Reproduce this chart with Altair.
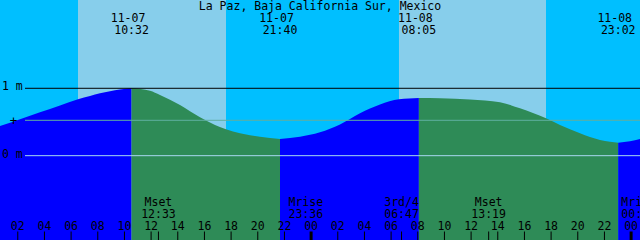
import altair as alt
import pandas as pd

TITLE = "La Paz, Baja California Sur, Mexico"
FONT = "DejaVu Sans Mono"
FS = 11.5

# Time in hours from 11-07 00:00 local; tide height in metres
tide_hours = [0.667, 2.167, 3.667, 5.167, 6.517, 7.417, 8.167, 8.917, 9.667, 10.533,
              11.917, 12.667, 14.167, 15.667, 16.792, 17.617, 18.667, 20.167, 21.667,
              23.167, 24.667, 26.167, 27.667, 29.167, 30.592, 32.083,
              33.667, 35.917, 38.167, 39.667, 41.617, 42.667, 44.167, 45.667, 46.417, 47.033,
              47.917, 48.667]
tide_m = [0.441, 0.542, 0.644, 0.745, 0.837, 0.886, 0.926, 0.955, 0.981, 1.0,
          0.964, 0.901, 0.752, 0.570, 0.455, 0.392, 0.332, 0.282, 0.248,
          0.282, 0.347, 0.463, 0.629, 0.760, 0.837, 0.856,
          0.852, 0.834, 0.792, 0.703, 0.555, 0.455, 0.332, 0.233, 0.206, 0.193,
          0.214, 0.248]

# High / low tide events
extreme_hours = [10.533, 21.667, 32.083, 47.033]
extreme_dates = ["11-07", "11-07", "11-08", "11-08"]
extreme_times = ["10:32", "21:40", "08:05", "23:02"]

# Daylight
sunrise_hours = [6.517, 30.59]
sunset_hours = [17.617, 41.617]

# Moon events
moon_hours = [12.55, 23.6, 30.783, 37.317, 48.567]
moon_names = ["Mset", "Mrise", "3rd/4", "Mset", "Mrise"]
moon_times = ["12:33", "23:36", "06:47", "13:19", "00:34"]
moon_ticked = [True, False, True, True, False]

# Hour axis
tick_hours = [2, 4, 6, 8, 10, 12, 14, 16, 18, 20, 22, 24,
              26, 28, 30, 32, 34, 36, 38, 40, 42, 44, 46, 48]
tick_labels = ["02", "04", "06", "08", "10", "12", "14", "16", "18", "20", "22", "00",
               "02", "04", "06", "08", "10", "12", "14", "16", "18", "20", "22", "00"]

# Level lines
level_m = [1.0, 0.525, 0.0]
level_labels = ["1 m", "+", "0 m"]

X_MIN, X_MAX = 0.667, 48.667
Y_MIN, Y_MAX = -1.251, 2.310

xs = alt.Scale(domain=[X_MIN, X_MAX], nice=False, zero=False)
ys = alt.Scale(domain=[Y_MIN, Y_MAX], nice=False, zero=False)

# ---- build tide segments split at extremes
ext_set = set(extreme_hours)
rows = []
seg = 0
bounds = [0] + [i for i, h in enumerate(tide_hours) if h in ext_set] + [len(tide_hours) - 1]
for s, e in zip(bounds[:-1], bounds[1:]):
    d = "flood" if tide_m[e] > tide_m[s] else "ebb"
    for i in range(s, e + 1):
        rows.append({"h": tide_hours[i], "m": tide_m[i], "seg": seg, "dir": d})
    seg += 1
tide_df = pd.DataFrame(rows)

day_df = pd.DataFrame({"a": sunrise_hours, "b": sunset_hours})
ext_df = pd.DataFrame({"h": extreme_hours, "d": extreme_dates, "t": extreme_times})
moon_df = pd.DataFrame({"h": moon_hours, "n": moon_names, "t": moon_times, "k": moon_ticked})
tick_df = pd.DataFrame({"h": tick_hours, "l": tick_labels})
tick_df["mid"] = tick_df["l"] == "00"
lvl_df = pd.DataFrame({"m": level_m, "l": level_labels})

X = lambda f: alt.X(f, scale=xs, axis=None)
Y = lambda f: alt.Y(f, scale=ys, axis=None)

night = alt.Chart(pd.DataFrame({"a": [X_MIN], "b": [X_MAX]})).mark_rect(color="#00BFFF").encode(
    x=X("a:Q"), x2="b:Q", y=alt.value(0), y2=alt.value(240))
day = alt.Chart(day_df).mark_rect(color="#87CEEB").encode(
    x=X("a:Q"), x2="b:Q", y=alt.value(0), y2=alt.value(240))

tide = alt.Chart(tide_df).mark_area(interpolate="monotone").encode(
    x=X("h:Q"), y=Y("m:Q"), y2=alt.datum(Y_MIN),
    color=alt.Color("dir:N", scale=alt.Scale(domain=["flood", "ebb"], range=["#0000FF", "#2E8B57"]), legend=None),
    detail="seg:N")

def level_rule(idx, color):
    return alt.Chart(lvl_df.iloc[[idx]]).mark_rule(color=color, strokeWidth=1).encode(
        x=alt.value(25), x2=alt.value(640), y=Y("m:Q"))

rule1 = level_rule(0, "#000000")
rule_mid = level_rule(1, "#5FAFA0")
rule0 = level_rule(2, "#A8D8F0")

lvl_text = alt.Chart(lvl_df.iloc[[0, 2]]).mark_text(
    font=FONT, fontSize=FS, align="left", baseline="middle", color="black", dy=-1).encode(
    x=alt.value(2), y=Y("m:Q"), text="l:N")
plus_text = alt.Chart(lvl_df.iloc[[1]]).mark_text(
    font=FONT, fontSize=FS + 1, align="center", baseline="middle", color="black", dy=1).encode(
    x=alt.value(13.5), y=Y("m:Q"), text="l:N")

title = alt.Chart(pd.DataFrame({"t": [TITLE]})).mark_text(
    font=FONT, fontSize=FS, align="center", baseline="alphabetic", color="black").encode(
    x=alt.value(320), y=alt.value(10), text="t:N")

ext_date = alt.Chart(ext_df).mark_text(
    font=FONT, fontSize=FS, align="center", baseline="alphabetic", color="black", dx=-3.5).encode(
    x=X("h:Q"), y=alt.value(21.7), text="d:N")
ext_time = alt.Chart(ext_df).mark_text(
    font=FONT, fontSize=FS, align="center", baseline="alphabetic", color="black").encode(
    x=X("h:Q"), y=alt.value(34), text="t:N")

moon_name = alt.Chart(moon_df).mark_text(
    font=FONT, fontSize=FS, align="center", baseline="alphabetic", color="black").encode(
    x=X("h:Q"), y=alt.value(206), text="n:N")
moon_time = alt.Chart(moon_df).mark_text(
    font=FONT, fontSize=FS, align="center", baseline="alphabetic", color="black").encode(
    x=X("h:Q"), y=alt.value(218.3), text="t:N")
moon_tick = alt.Chart(moon_df[moon_df["k"]]).mark_rule(color="black", strokeWidth=1).encode(
    x=X("h:Q"), y=alt.value(231.5), y2=alt.value(240))

hour_text = alt.Chart(tick_df).mark_text(
    font=FONT, fontSize=FS, align="center", baseline="alphabetic", color="black").encode(
    x=X("h:Q"), y=alt.value(230), text="l:N")
hour_tick = alt.Chart(tick_df[~tick_df["mid"]]).mark_rule(color="black", strokeWidth=1).encode(
    x=X("h:Q"), y=alt.value(231.5), y2=alt.value(240))
mid_tick = alt.Chart(tick_df[tick_df["mid"]]).mark_rule(color="black", strokeWidth=3).encode(
    x=X("h:Q"), y=alt.value(231.5), y2=alt.value(240))

chart = alt.layer(
    night, day, tide, rule_mid, rule0, rule1, lvl_text, plus_text, title,
    ext_date, ext_time, moon_name, moon_time, moon_tick, hour_text, hour_tick, mid_tick
).properties(
    width=640, height=240, padding=0, autosize=alt.AutoSizeParams(type="none")
).configure_view(stroke=None)

chart.save("out.html", embed_options={"renderer": "svg", "actions": False})
